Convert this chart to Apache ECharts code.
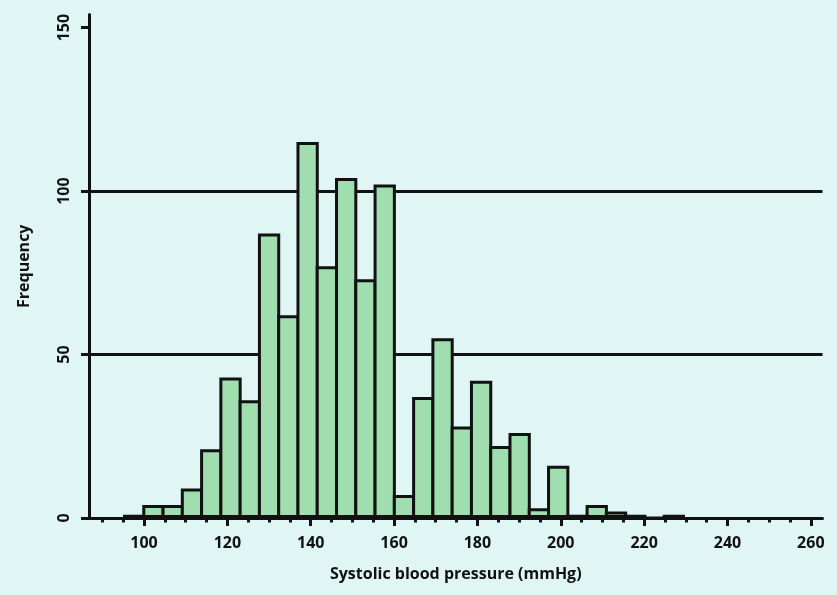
<!DOCTYPE html>
<html><head><meta charset="utf-8">
<script src="https://cdn.jsdelivr.net/npm/echarts@6/dist/echarts.min.js"></script>
<style>html,body{margin:0;padding:0;background:#e0f6f4}#c{width:837px;height:595px}</style>
</head><body><div id="c"></div>
<script>
// Histogram bins (lower edge, mmHg) and counts
const binStarts = [95,100,105,110,115,120,125,130,135,140,145,150,155,160,165,170,175,180,185,190,195,200,205,210,215,220,225,230,235];
const frequencies = [1,4,4,9,21,43,36,87,62,115,77,104,73,102,7,37,55,28,42,22,26,3,16,1,4,2,1,0,1];
const xMajorTicks = [100,120,140,160,180,200,220,240,260];
const xMinorTicks = [90,95,105,110,115,125,130,135,145,150,155,165,170,175,185,190,195,205,210,215,225,230,235,245,250,255];
const yTicks = [0,50,100,150];
const gridLines = [50,100];
const xAxisName = 'Systolic blood pressure (mmHg)';
const yAxisName = 'Frequency';

const ink = '#111';
const font = {fontFamily: 'Open Sans', fontWeight: 'bold', fontSize: 16, color: ink};
const chart = echarts.init(document.getElementById('c'), null, {renderer: 'canvas'});
chart.setOption({
  animation: false,
  backgroundColor: '#e0f6f4',
  grid: {left: 89, right: 14.5, top: 14.5, bottom: 77},
  xAxis: [
    {
      type: 'value', position: 'bottom', min: 86.8, max: 262.8,
      axisLine: {show: true, lineStyle: {color: ink, width: 3}},
      axisTick: {show: true, customValues: xMajorTicks, length: 8, lineStyle: {color: ink, width: 3}},
      axisLabel: Object.assign({customValues: xMajorTicks, margin: 17}, font),
      splitLine: {show: false},
      name: xAxisName, nameLocation: 'middle', nameGap: 48,
      nameTextStyle: font
    },
    {
      type: 'value', position: 'bottom', min: 86.8, max: 262.8,
      axisLine: {show: false},
      axisTick: {show: true, customValues: xMinorTicks, length: 4.5, lineStyle: {color: ink, width: 3}},
      axisLabel: {show: false},
      splitLine: {show: false}
    },
    {
      type: 'value', show: false, min: 85.79, max: 276.06,
      splitLine: {show: false}
    }
  ],
  yAxis: {
    type: 'value', min: 0, max: 154,
    axisLine: {show: true, lineStyle: {color: ink, width: 3}},
    axisTick: {show: true, customValues: yTicks, length: 8, lineStyle: {color: ink, width: 3}},
    axisLabel: Object.assign({customValues: yTicks, rotate: 90, margin: 17}, font),
    splitLine: {show: false},
    name: yAxisName, nameLocation: 'middle', nameRotate: 90, nameGap: 57,
    nameTextStyle: font
  },
  series: [{
    type: 'bar', xAxisIndex: 2, z: 2,
    barWidth: 22.3, barCategoryGap: '0%', barGap: '0%',
    data: binStarts.map((s, i) => [s + 2.5, frequencies[i]]),
    itemStyle: {color: '#a0deb0', borderColor: ink, borderWidth: 3},
    markLine: {
      silent: true, z: 1, symbol: 'none',
      label: {show: false},
      lineStyle: {color: ink, width: 3, type: 'solid'},
      data: gridLines.map(v => ({yAxis: v}))
    }
  }]
});
</script></body></html>
